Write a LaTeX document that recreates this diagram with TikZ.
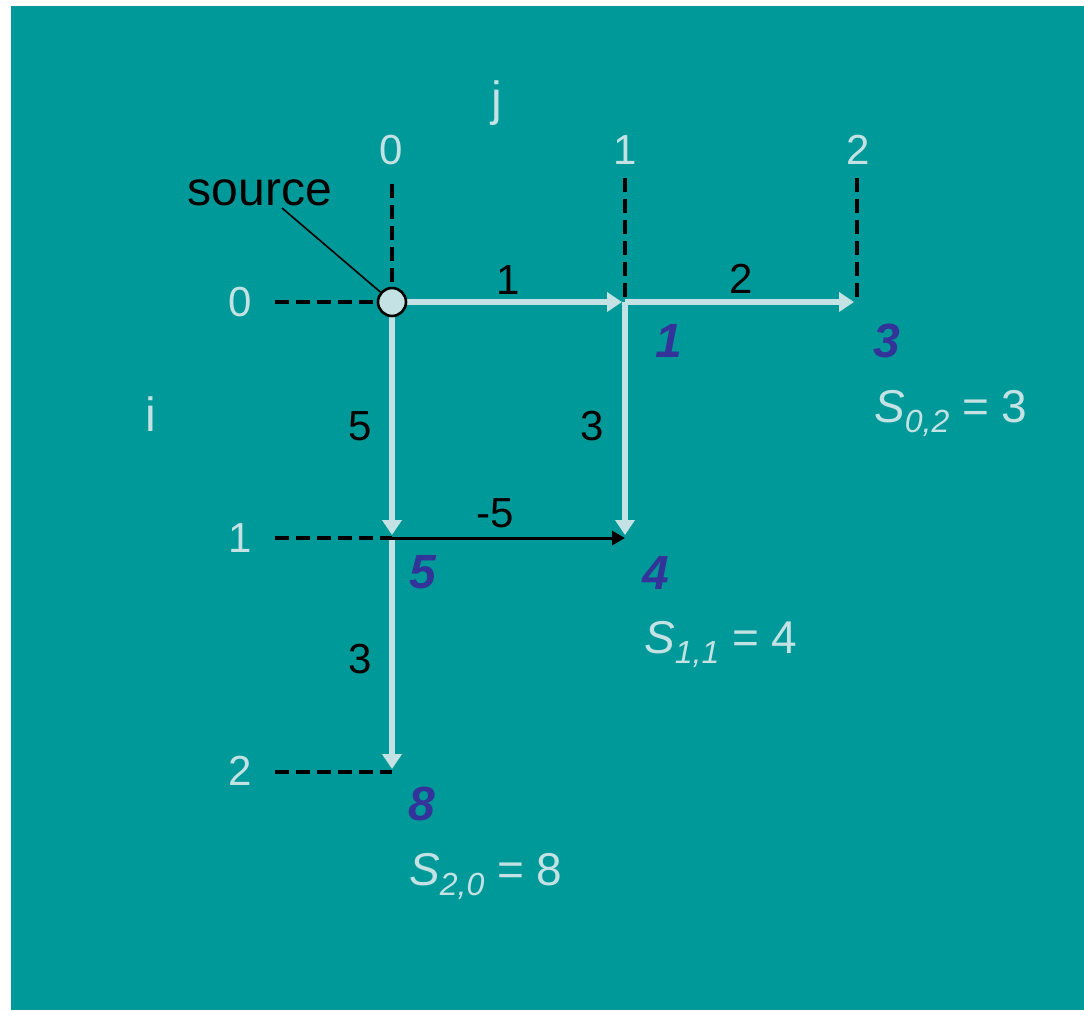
\documentclass[tikz,border=0pt]{standalone}
\usepackage{fontspec}
\setmainfont{Liberation Sans}
\usetikzlibrary{arrows.meta}
\definecolor{bg}{HTML}{009999}
\definecolor{lite}{HTML}{C4E2E4}
\definecolor{blu}{HTML}{333399}
\begin{document}
\begin{tikzpicture}[x=1pt,y=-1pt,
  lbl/.style={text=lite,font=\fontsize{42}{50}\selectfont,inner sep=0pt},
  axis/.style={text=lite,font=\fontsize{48}{56}\selectfont,inner sep=0pt},
  edgelbl/.style={text=black,font=\fontsize{42}{50}\selectfont,inner sep=0pt},
  cost/.style={text=blu,font=\fontsize{48}{56}\selectfont\bfseries\itshape,inner sep=0pt},
  sumlbl/.style={text=lite,font=\fontsize{46}{54}\selectfont,inner sep=0pt,anchor=base west},
  guide/.style={black,line width=3.2pt,dash pattern=on 14pt off 7pt},
  flow/.style={lite,line width=6pt,shorten >=3pt,-{Triangle[length=15pt,width=19pt]}},
  neg/.style={black,line width=3pt,-{Triangle[length=13pt,width=14pt]}},
  srcdot/.style={circle,draw=black,line width=2.6pt,fill=lite,minimum size=28pt,inner sep=0pt}]
% background
\fill[white] (0,0) rectangle (1084,1010);
\fill[bg] (11,6) rectangle (1084,1010);
% grid points
\coordinate (g00) at (392,302);
\coordinate (g01) at (625,302);
\coordinate (g02) at (857,302);
\coordinate (g10) at (392,538);
\coordinate (g11) at (625,538);
\coordinate (g20) at (392,772);
\coordinate (t0) at (392,184);
\coordinate (t1) at (625,178);
\coordinate (t2) at (857,178);
\coordinate (l0) at (275,302);
\coordinate (l1) at (275,538);
\coordinate (l2) at (275,772);
% flows
\draw[flow] (g00) -- (g01);
\draw[flow] (g01) -- (g02);
\draw[flow] (g00) -- (g10);
\draw[flow] (g01) -- (g11);
\draw[flow] (g10) -- (g20);
\draw[neg] (g10) -- (g11);
% guides
\draw[guide] (t0) -- (g00);
\draw[guide] (t1) -- (g01);
\draw[guide] (t2) -- ([yshift=3pt]g02);
\draw[guide] (l0) -- (g00);
\draw[guide] (l1) -- (g10);
\draw[guide] (l2) -- (g20);
% source
\node[srcdot] (src) at (g00) {};
\node[text=black,font=\fontsize{48}{56}\selectfont,inner sep=0pt] (srclbl) at (260,193) {source};
\coordinate (lead) at (282,208);
\draw[black,line width=1.6pt] (lead) -- (src);
% axis labels
\node[axis] (jlbl) at (497,103) {j};
\node[axis] (ilbl) at (151,414) {i};
\node[lbl] (c0) at (391,150) {0};
\node[lbl] (c1) at (625,150) {1};
\node[lbl] (c2) at (858,150) {2};
\node[lbl] (r0) at (240,302) {0};
\node[lbl] (r1) at (240,538) {1};
\node[lbl] (r2) at (240,771) {2};
% edge weights
\node[edgelbl] (w1) at (508,280) {1};
\node[edgelbl] (w2) at (741,279) {2};
\node[edgelbl] (w3) at (360,426) {5};
\node[edgelbl] (w4) at (592,426) {3};
\node[edgelbl] (w5) at (360,659) {3};
\node[edgelbl] (w6) at (495,513) {-5};
% costs
\node[cost] (k01) at (669,341) {1};
\node[cost] (k02) at (887,341) {3};
\node[cost] (k10) at (423,572) {5};
\node[cost] (k11) at (656,573) {4};
\node[cost] (k20) at (422,804) {8};
% sums
\node[sumlbl] (s02) at (874,422) {\textit{S}\raisebox{-0.22em}{\fontsize{32}{38}\selectfont\textit{0,2}} = 3};
\node[sumlbl] (s11) at (644,653) {\textit{S}\raisebox{-0.22em}{\fontsize{32}{38}\selectfont\textit{1,1}} = 4};
\node[sumlbl] (s20) at (409,885) {\textit{S}\raisebox{-0.22em}{\fontsize{32}{38}\selectfont\textit{2,0}} = 8};
\end{tikzpicture}
\end{document}
